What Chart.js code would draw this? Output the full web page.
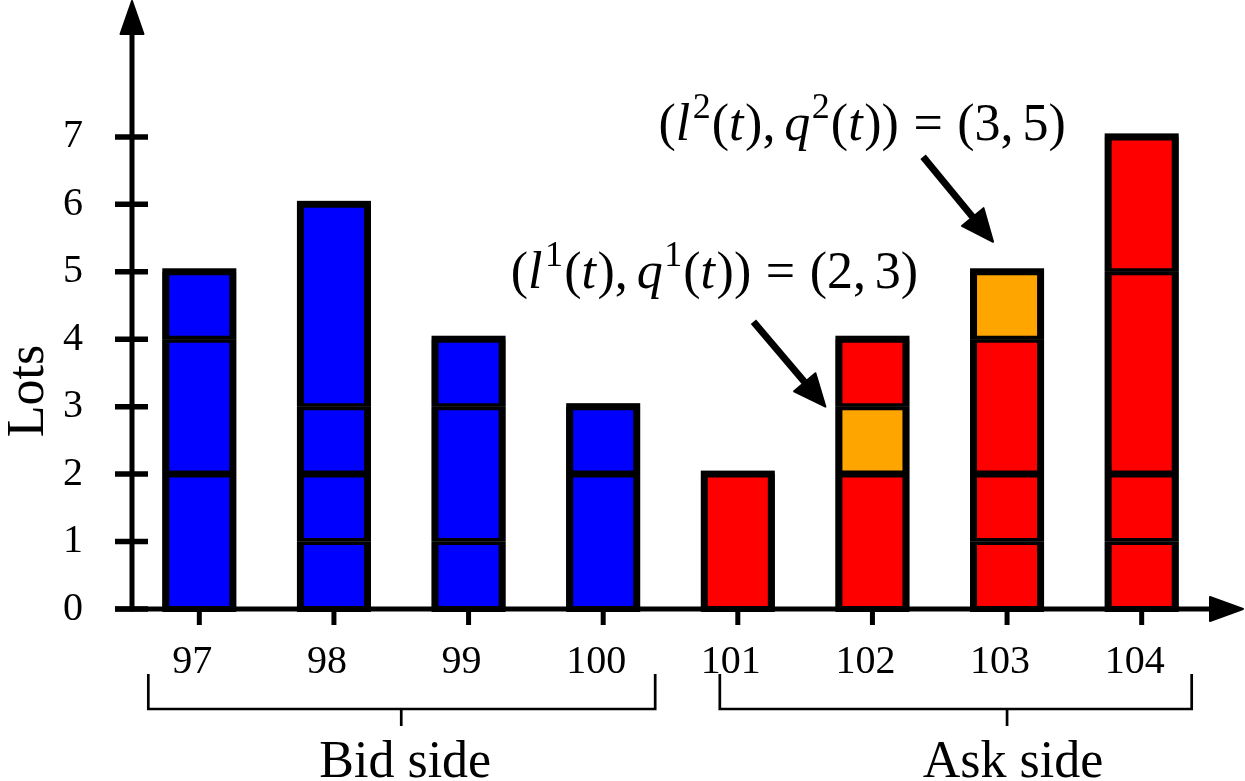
<!DOCTYPE html>
<html>
<head>
<meta charset="utf-8">
<script src="https://cdn.jsdelivr.net/npm/chart.js@4.4.0/dist/chart.umd.min.js"></script>
<style>
  html, body { margin: 0; padding: 0; background: #fff; }
  #wrap { width: 1245px; height: 781px; }
</style>
</head>
<body>
<div id="wrap"><canvas id="bookChart"></canvas></div>
<script>
// price levels of the book
const prices = ['97', '98', '99', '100', '101', '102', '103', '104'];
const sides = ['bid', 'bid', 'bid', 'bid', 'ask', 'ask', 'ask', 'ask'];

// lots of each resting order, stacked from the bottom up
const level1 = [2, 1, 1, 2, 2, 2, 1, 1];
const level2 = [2, 1, 2, 1, null, 1, 1, 1];
const level3 = [1, 1, 1, null, null, 1, 2, 3];
const level4 = [null, 3, null, null, null, null, 1, 2];

// which order (level number) is highlighted at each price
const highlight = [null, null, null, null, null, 2, 4, null];

const yTicks = [0, 1, 2, 3, 4, 5, 6, 7];
const yMax = 9;

const groupNames = ['Bid side', 'Ask side'];

// annotated quotes: (l^k(t), q^k(t))
const quoteK = ['1', '2'];
const quoteL = ['2', '3'];
const quoteQ = ['3', '5'];
const quotePrice = ['102', '103'];

const FONT = '"Liberation Serif", "DejaVu Serif", serif';
const levels = [level1, level2, level3, level4];
const sideColor = { bid: '#0000ff', ask: '#ff0000' };
const ORANGE = '#ffa500';
const BW = 7;

function isTop(d, i) {
  return levels.slice(d + 1).every(l => l[i] == null);
}

const datasets = levels.map((vals, d) => ({
  label: 'order ' + (d + 1),
  data: vals,
  backgroundColor: c => highlight[c.dataIndex] === d + 1 ? ORANGE : sideColor[sides[c.dataIndex]],
  borderColor: '#000',
  borderSkipped: false,
  borderWidth: c => ({
    left: BW, right: BW,
    top: isTop(d, c.dataIndex) ? 3.5 : 3.5,
    bottom: d === 0 ? 3 : 3.5
  }),
  barPercentage: 0.55,
  categoryPercentage: 1
}));

// bracket geometry (pixel offsets from category centres)
const braces = [
  { from: 0, fromDx: -51, to: 3, toDx: 52, mid: 1.5, textDx: 4 },
  { from: 4, fromDx: -18, to: 7, toDx: 50, mid: 6, textDx: 6 }
];
// arrow / label placement relative to the pointed value
const notes = [
  { tipDx: -47, tipDy: 0, tail: [-72, -85], text: [-111, -119] },
  { tipDx: -14, tipDy: -30, tail: [-70, -85], text: [-131, -102] }
];

// black backing under each stack so the outline is centred on the value line
const outlineBacking = {
  id: 'outlineBacking',
  beforeDatasetsDraw(chart) {
    const ctx = chart.ctx;
    ctx.save();
    ctx.fillStyle = '#000';
    levels.forEach((vals, d) => {
      chart.getDatasetMeta(d).data.forEach((bar, i) => {
        if (vals[i] == null) return;
        const p = bar.getProps(['x', 'y', 'base', 'width'], true);
        const up = isTop(d, i) ? BW / 2 : 0;
        const down = d === 0 ? 3 : 0;
        ctx.fillRect(p.x - p.width / 2, p.y - up, p.width, p.base - p.y + up + down);
      });
    });
    ctx.restore();
  }
};

function arrowHead(ctx, x0, y0, x1, y1, len, half) {
  const a = Math.atan2(y1 - y0, x1 - x0);
  const cs = Math.cos(a), sn = Math.sin(a);
  const bx = x1 - len * cs, by = y1 - len * sn;
  ctx.beginPath();
  ctx.moveTo(x0, y0);
  ctx.lineTo(bx + 2 * cs, by + 2 * sn);
  ctx.stroke();
  ctx.save();
  ctx.lineWidth = 2;
  ctx.lineJoin = 'round';
  ctx.beginPath();
  ctx.moveTo(x1, y1);
  ctx.lineTo(bx - half * sn, by + half * cs);
  ctx.lineTo(bx + half * sn, by - half * cs);
  ctx.closePath();
  ctx.fill();
  ctx.stroke();
  ctx.restore();
}

// [text, style, gap after in em]; style n = upright, i = italic, s = superscript
function mathParts(k, l, q) {
  return [
    ['(', 'n', 0], ['l', 'i', 0.05], [k, 's', 0.02], ['(', 'n', 0], ['t', 'i', 0.03], [')', 'n', 0], [',', 'n', 0.17],
    ['q', 'i', 0.03], [k, 's', 0.02], ['(', 'n', 0], ['t', 'i', 0.03], ['))', 'n', 0.28], ['=', 'n', 0.28],
    ['(' + l + ',', 'n', 0.17], [q + ')', 'n', 0]
  ];
}

function drawMath(ctx, parts, cx, base, size) {
  const fontOf = s => s === 'i' ? 'italic ' + size + 'px ' + FONT
    : s === 's' ? Math.round(size * 0.7) + 'px ' + FONT : size + 'px ' + FONT;
  let w = 0;
  parts.forEach(p => { ctx.font = fontOf(p[1]); w += ctx.measureText(p[0]).width + p[2] * size; });
  let x = cx - w / 2;
  ctx.textAlign = 'left';
  ctx.textBaseline = 'alphabetic';
  parts.forEach(p => {
    ctx.font = fontOf(p[1]);
    const y = p[1] === 's' ? base - size * 0.42 : base;
    ctx.fillText(p[0], x, y);
    x += ctx.measureText(p[0]).width + p[2] * size;
  });
}

const decorations = {
  id: 'decorations',
  afterDatasetsDraw(chart) {
    const ctx = chart.ctx;
    const X = chart.scales.x, Y = chart.scales.y;
    const area = chart.chartArea;
    const x0 = area.left, y0 = Y.getPixelForValue(0);
    const xAt = i => X.getPixelForValue(i);
    ctx.save();
    ctx.fillStyle = '#000';
    ctx.strokeStyle = '#000';

    // axes with arrow heads
    ctx.lineWidth = 5;
    arrowHead(ctx, x0, y0 + 2.5, x0, area.top - 1, 33, 11.5);
    arrowHead(ctx, x0 - 17, y0, chart.width - 2, y0, 33, 12);

    // tick marks
    ctx.lineWidth = 5.5;
    Y.ticks.forEach(t => {
      const y = Y.getPixelForValue(t.value);
      ctx.beginPath(); ctx.moveTo(x0 - 17, y); ctx.lineTo(x0 + 16, y); ctx.stroke();
    });
    ctx.lineWidth = 5;
    prices.forEach((p, i) => {
      ctx.beginPath(); ctx.moveTo(xAt(i), y0); ctx.lineTo(xAt(i), y0 + 16); ctx.stroke();
    });

    // side brackets
    ctx.lineWidth = 2.7;
    braces.forEach((b, g) => {
      const xl = xAt(b.from) + b.fromDx, xr = xAt(b.to) + b.toDx;
      const lo = Math.floor(b.mid), fr = b.mid - lo;
      const xm = xAt(lo) + (lo + 1 < prices.length ? (xAt(lo + 1) - xAt(lo)) * fr : 0);
      const top = y0 + 65, bar = y0 + 100;
      ctx.beginPath();
      ctx.moveTo(xl, top); ctx.lineTo(xl, bar); ctx.lineTo(xr, bar); ctx.lineTo(xr, top);
      ctx.moveTo(xm, bar); ctx.lineTo(xm, bar + 17);
      ctx.stroke();
      ctx.font = '52px ' + FONT;
      ctx.textAlign = 'center';
      ctx.textBaseline = 'alphabetic';
      ctx.fillText(groupNames[g], xm + b.textDx, y0 + 168);
    });

    // quote annotations
    ctx.lineWidth = 7;
    notes.forEach((n, k) => {
      const i = prices.indexOf(quotePrice[k]);
      const tx = xAt(i) + n.tipDx, ty = Y.getPixelForValue(+quoteQ[k]) + n.tipDy;
      arrowHead(ctx, tx + n.tail[0], ty + n.tail[1], tx, ty, 32, 14);
      drawMath(ctx, mathParts(quoteK[k], quoteL[k], quoteQ[k]), tx + n.text[0], ty + n.text[1], 52);
    });

    // y title
    ctx.translate(43, 391);
    ctx.rotate(-Math.PI / 2);
    ctx.font = '52px ' + FONT;
    ctx.textAlign = 'center';
    ctx.textBaseline = 'alphabetic';
    ctx.fillText('Lots', 0, 0);
    ctx.restore();
  }
};

new Chart(document.getElementById('bookChart').getContext('2d'), {
  type: 'bar',
  data: { labels: prices, datasets: datasets },
  options: {
    responsive: true,
    maintainAspectRatio: false,
    animation: false,
    layout: { padding: { top: 2, right: 36, left: 0, bottom: 0 } },
    plugins: { legend: { display: false }, tooltip: { enabled: false } },
    scales: {
      x: {
        stacked: true,
        grid: { display: false, drawTicks: false },
        border: { display: false },
        ticks: { color: '#000', font: { family: FONT, size: 40 }, padding: 29, labelOffset: -7, maxRotation: 0, autoSkip: false },
        afterFit: s => { s.height = 172; s.paddingLeft = 0; s.paddingRight = 0; }
      },
      y: {
        stacked: true,
        min: 0,
        max: yMax,
        grid: { display: false, drawTicks: false },
        border: { display: false },
        ticks: { color: '#000', font: { family: FONT, size: 40 }, padding: 49 },
        afterBuildTicks: s => { s.ticks = yTicks.map(v => ({ value: v })); },
        afterFit: s => { s.width = 132; s.paddingTop = 0; s.paddingBottom = 0; }
      }
    }
  },
  plugins: [outlineBacking, decorations]
});
</script>
</body>
</html>
